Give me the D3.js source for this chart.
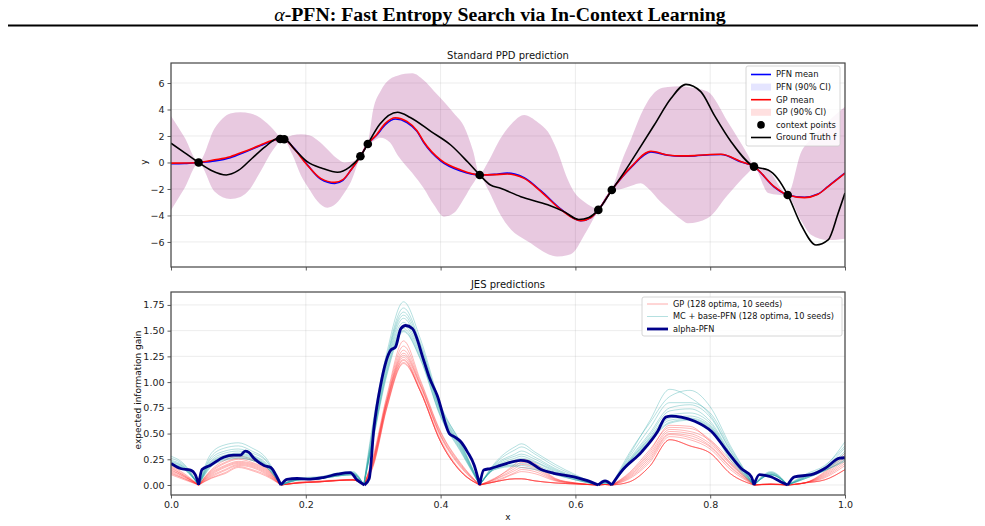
<!DOCTYPE html>
<html>
<head>
<meta charset="utf-8">
<script src="https://cdn.jsdelivr.net/npm/d3@7"></script>
<style>
  body { margin: 0; background: #fff; }
  text { font-family: "DejaVu Sans", sans-serif; }
</style>
</head>
<body>
<div id="wrapper"></div>
<script>
// ---- top panel: standard PPD prediction ----
const meanX = [0, 0.02, 0.041, 0.065, 0.088, 0.11, 0.133, 0.15, 0.162, 0.168, 0.182, 0.202, 0.222, 0.243, 0.255, 0.267, 0.281, 0.292, 0.305, 0.318, 0.333, 0.35, 0.365, 0.375, 0.4, 0.43, 0.458, 0.48, 0.499, 0.51, 0.524, 0.549, 0.579, 0.608, 0.623, 0.634, 0.654, 0.683, 0.712, 0.737, 0.757, 0.777, 0.8, 0.816, 0.846, 0.865, 0.895, 0.915, 0.94, 0.96, 0.975, 1.0];
const gpMean = [-0.05, -0.04, 0, 0.2, 0.44, 0.85, 1.32, 1.65, 1.77, 1.75, 1.07, -0.19, -1.2, -1.5, -1.3, -0.57, 0.47, 1.4, 2.1, 2.95, 3.38, 3.1, 2.4, 1.57, 0.19, -0.57, -0.94, -0.92, -0.87, -0.95, -1.2, -2.2, -3.58, -4.39, -4.15, -3.58, -2.08, -0.31, 0.85, 0.57, 0.5, 0.52, 0.6, 0.62, 0.06, -0.31, -1.82, -2.45, -2.65, -2.4, -1.82, -0.82];
const pfnMean = [-0.1, -0.08, 0, 0.12, 0.36, 0.8, 1.28, 1.63, 1.77, 1.75, 1.1, -0.15, -1.25, -1.58, -1.35, -0.57, 0.47, 1.4, 2.05, 2.85, 3.28, 3.02, 2.35, 1.5, 0.12, -0.65, -0.94, -0.9, -0.8, -0.88, -1.15, -2.15, -3.55, -4.4, -4.15, -3.58, -2.08, -0.35, 0.8, 0.55, 0.48, 0.5, 0.58, 0.6, 0.04, -0.31, -1.85, -2.45, -2.62, -2.38, -1.8, -0.8];

const ciX = [0, 0.02, 0.041, 0.065, 0.088, 0.103, 0.118, 0.128, 0.138, 0.148, 0.155, 0.162, 0.168, 0.18, 0.193, 0.205, 0.217, 0.232, 0.245, 0.257, 0.267, 0.281, 0.286, 0.292, 0.3, 0.311, 0.325, 0.336, 0.358, 0.375, 0.39, 0.405, 0.42, 0.435, 0.448, 0.458, 0.47, 0.489, 0.505, 0.524, 0.534, 0.545, 0.559, 0.573, 0.588, 0.598, 0.613, 0.623, 0.634, 0.644, 0.654, 0.668, 0.683, 0.697, 0.707, 0.727, 0.737, 0.757, 0.767, 0.796, 0.826, 0.856, 0.865, 0.886, 0.915, 0.935, 0.95, 0.975, 1.0];
const ciUpper = [3.5, 1.9, 0.05, 2.6, 3.7, 3.8, 3.7, 3.5, 3.15, 2.7, 2.3, 1.9, 1.85, 2.05, 2.13, 2.05, 1.7, 1.0, 0.35, 0.0, 0.05, 0.55, 1.1, 1.5, 4.0, 5.4, 6.3, 6.55, 6.73, 6.2, 5.4, 4.59, 3.7, 2.7, 0.9, -0.85, 0.0, 1.82, 2.9, 3.58, 3.4, 3.0, 2.33, 0.9, -1.2, -2.2, -2.96, -3.3, -3.5, -2.6, -2.0, 0.0, 1.82, 3.6, 4.59, 5.6, 5.7, 5.75, 5.7, 5.35, 3.08, 0.57, -0.25, -0.6, -2.35, 0.8, 1.8, 3.1, 4.2];
const ciLower = [-3.6, -1.95, -0.05, -2.2, -2.75, -2.6, -1.95, -1.1, -0.2, 0.7, 1.2, 1.65, 1.65, 0.6, -1.0, -2.0, -2.9, -3.41, -3.1, -2.3, -1.45, 0.4, 0.8, 1.3, 1.6, 1.87, 1.5, 0.57, -0.8, -1.95, -3.2, -4.09, -3.8, -2.7, -1.6, -1.0, -2.0, -3.96, -5.1, -5.8, -6.1, -6.5, -6.9, -7.1, -7.0, -6.73, -5.5, -4.6, -3.65, -3.1, -2.15, -2.0, -1.75, -1.57, -1.9, -3.0, -3.46, -4.3, -4.59, -4.21, -2.45, -0.8, -0.38, -2.3, -2.55, -4.4, -5.47, -5.85, -5.75];

const truthX = [0, 0.02, 0.041, 0.06, 0.082, 0.1, 0.12, 0.14, 0.16, 0.168, 0.185, 0.202, 0.225, 0.247, 0.265, 0.281, 0.292, 0.31, 0.336, 0.355, 0.386, 0.415, 0.44, 0.458, 0.474, 0.489, 0.519, 0.559, 0.583, 0.605, 0.62, 0.634, 0.654, 0.673, 0.692, 0.717, 0.742, 0.764, 0.786, 0.806, 0.831, 0.865, 0.886, 0.9, 0.915, 0.935, 0.957, 0.975, 0.99, 1.0];
const truthY = [1.45, 0.75, 0.0, -0.6, -0.94, -0.6, 0.3, 1.2, 1.85, 1.8, 0.9, 0.06, -0.45, -0.74, -0.35, 0.47, 1.4, 2.9, 3.79, 3.4, 2.33, 1.32, 0.05, -0.94, -1.7, -1.95, -2.58, -3.2, -3.71, -4.3, -4.15, -3.58, -2.08, -0.69, 0.82, 2.83, 4.85, 5.9, 5.35, 3.58, 1.57, -0.31, -0.57, -1.2, -2.45, -4.72, -6.23, -5.85, -3.8, -2.3];

const contextX = [0.041, 0.162, 0.168, 0.281, 0.292, 0.458, 0.634, 0.654, 0.865, 0.915];
const contextY = [0.0, 1.77, 1.75, 0.47, 1.4, -0.94, -3.58, -2.08, -0.31, -2.45];

const topTicksY = [-6, -4, -2, 0, 2, 4, 6];

// ---- bottom panel: JES predictions ----
const jesX = [0, 0.02, 0.041, 0.06, 0.08, 0.10, 0.12, 0.14, 0.163, 0.19, 0.22, 0.25, 0.27, 0.286, 0.30, 0.32, 0.345, 0.37, 0.40, 0.43, 0.458, 0.48, 0.51, 0.52, 0.54, 0.57, 0.60, 0.634, 0.644, 0.654, 0.68, 0.71, 0.74, 0.77, 0.80, 0.83, 0.865, 0.89, 0.915, 0.94, 0.97, 1.0];

const gpSeeds = [
  [0.19,0.11,0,0.15,0.24,0.28,0.25,0.18,0,0.03,0.04,0.05,0.055,0,0.28,0.86,1.40,1.02,0.52,0.21,0,0.065,0.18,0.22,0.19,0.06,0.02,0,0.005,0,0.12,0.34,0.56,0.55,0.44,0.24,0,0.01,0,0.02,0.13,0.31],
  [0.18,0.10,0,0.14,0.22,0.26,0.24,0.17,0,0.026,0.036,0.048,0.052,0,0.26,0.84,1.35,1.00,0.51,0.20,0,0.06,0.20,0.25,0.21,0.065,0.02,0,0.005,0,0.11,0.32,0.58,0.57,0.42,0.22,0,0.01,0,0.02,0.12,0.29],
  [0.17,0.09,0,0.13,0.21,0.25,0.22,0.16,0,0.022,0.032,0.046,0.05,0,0.25,0.82,1.31,0.98,0.49,0.19,0,0.055,0.16,0.20,0.17,0.055,0.018,0,0.005,0,0.10,0.30,0.54,0.52,0.43,0.21,0,0.01,0,0.02,0.11,0.27],
  [0.16,0.09,0,0.12,0.19,0.23,0.21,0.15,0,0.022,0.032,0.046,0.05,0,0.24,0.81,1.28,0.97,0.48,0.18,0,0.05,0.14,0.17,0.15,0.05,0.016,0,0.005,0,0.09,0.28,0.52,0.50,0.40,0.20,0,0.008,0,0.02,0.10,0.25],
  [0.15,0.08,0,0.11,0.18,0.22,0.20,0.14,0,0.022,0.032,0.046,0.05,0,0.23,0.80,1.26,0.96,0.47,0.17,0,0.04,0.12,0.15,0.13,0.045,0.015,0,0.005,0,0.08,0.26,0.50,0.48,0.38,0.18,0,0.008,0,0.02,0.09,0.23],
  [0.14,0.08,0,0.10,0.17,0.21,0.19,0.13,0,0.02,0.03,0.044,0.048,0,0.22,0.79,1.24,0.93,0.44,0.14,0,0.03,0.11,0.13,0.11,0.04,0.014,0,0.005,0,0.07,0.24,0.49,0.46,0.37,0.17,0,0.007,0,0.02,0.08,0.21],
  [0.13,0.07,0,0.09,0.15,0.20,0.18,0.12,0,0.02,0.03,0.044,0.048,0,0.21,0.78,1.22,0.91,0.42,0.13,0,0.03,0.06,0.06,0.04,0.02,0.01,0,0.005,0,0.06,0.22,0.47,0.44,0.35,0.15,0,0.006,0,0.02,0.07,0.19],
  [0.12,0.06,0,0.08,0.14,0.19,0.17,0.11,0,0.02,0.03,0.044,0.048,0,0.20,0.76,1.21,0.91,0.42,0.13,0,0.03,0.06,0.06,0.04,0.02,0.01,0,0.005,0,0.03,0.18,0.44,0.38,0.31,0.11,0,0.005,0,0.02,0.05,0.15],
  [0.11,0.06,0,0.07,0.12,0.18,0.15,0.10,0,0.02,0.03,0.044,0.048,0,0.19,0.75,1.19,0.91,0.42,0.13,0,0.03,0.06,0.06,0.04,0.02,0.01,0,0.005,0,0.03,0.18,0.44,0.38,0.31,0.11,0,0.005,0,0.02,0.05,0.15],
  [0.10,0.05,0,0.065,0.11,0.17,0.14,0.09,0,0.02,0.03,0.044,0.048,0,0.18,0.74,1.18,0.91,0.42,0.13,0,0.03,0.06,0.06,0.04,0.02,0.01,0,0.005,0,0.03,0.18,0.44,0.38,0.31,0.11,0,0.005,0,0.02,0.05,0.15]
];

const mcSeeds = [
  [0.28,0.20,0,0.28,0.36,0.38,0.33,0.25,0,0.06,0.07,0.11,0.12,0,0.62,1.28,1.78,1.42,0.78,0.40,0,0.20,0.34,0.37,0.30,0.18,0.09,0,0.03,0,0.31,0.60,0.86,0.92,0.76,0.38,0,0.12,0,0.09,0.18,0.42],
  [0.26,0.19,0,0.31,0.39,0.41,0.36,0.27,0,0.07,0.08,0.12,0.13,0,0.58,1.24,1.72,1.38,0.76,0.41,0,0.21,0.37,0.40,0.32,0.20,0.10,0,0.04,0,0.29,0.62,0.93,0.85,0.68,0.34,0,0.13,0,0.10,0.19,0.38],
  [0.24,0.18,0,0.26,0.33,0.35,0.31,0.24,0,0.06,0.07,0.11,0.12,0,0.55,1.22,1.68,1.36,0.75,0.39,0,0.19,0.30,0.33,0.27,0.16,0.08,0,0.03,0,0.27,0.55,0.80,0.80,0.70,0.36,0,0.12,0,0.08,0.17,0.36],
  [0.23,0.17,0,0.24,0.31,0.33,0.29,0.22,0,0.06,0.07,0.10,0.11,0,0.52,1.20,1.65,1.33,0.73,0.38,0,0.18,0.28,0.30,0.25,0.15,0.07,0,0.03,0,0.25,0.50,0.75,0.78,0.66,0.33,0,0.11,0,0.08,0.16,0.33],
  [0.22,0.17,0,0.23,0.29,0.31,0.28,0.21,0,0.05,0.07,0.10,0.11,0,0.50,1.17,1.62,1.31,0.72,0.37,0,0.17,0.26,0.28,0.23,0.14,0.07,0,0.03,0,0.24,0.48,0.72,0.74,0.62,0.31,0,0.11,0,0.07,0.16,0.31],
  [0.21,0.16,0,0.22,0.28,0.30,0.27,0.20,0,0.05,0.06,0.10,0.11,0,0.48,1.15,1.58,1.29,0.71,0.36,0,0.17,0.24,0.26,0.22,0.13,0.06,0,0.02,0,0.23,0.46,0.68,0.70,0.60,0.30,0,0.10,0,0.07,0.15,0.29],
  [0.20,0.16,0,0.21,0.27,0.29,0.26,0.20,0,0.05,0.06,0.09,0.10,0,0.47,1.12,1.55,1.27,0.70,0.35,0,0.16,0.22,0.24,0.20,0.12,0.06,0,0.02,0,0.23,0.45,0.65,0.67,0.58,0.29,0,0.10,0,0.07,0.15,0.27],
  [0.20,0.15,0,0.20,0.26,0.28,0.25,0.19,0,0.05,0.06,0.09,0.10,0,0.46,1.10,1.52,1.25,0.68,0.34,0,0.16,0.20,0.21,0.18,0.11,0.05,0,0.02,0,0.22,0.44,0.63,0.65,0.57,0.27,0,0.10,0,0.06,0.14,0.25],
  [0.19,0.15,0,0.19,0.25,0.27,0.24,0.18,0,0.05,0.06,0.09,0.10,0,0.45,1.08,1.50,1.23,0.67,0.33,0,0.15,0.19,0.19,0.16,0.10,0.05,0,0.02,0,0.21,0.43,0.61,0.64,0.56,0.26,0,0.10,0,0.06,0.14,0.24],
  [0.19,0.15,0,0.18,0.24,0.26,0.24,0.18,0,0.05,0.06,0.09,0.10,0,0.44,1.06,1.49,1.22,0.66,0.32,0,0.15,0.18,0.17,0.15,0.10,0.05,0,0.02,0,0.21,0.42,0.60,0.63,0.55,0.24,0,0.10,0,0.06,0.14,0.23]
];

const alphaX = [0, 0.014, 0.029, 0.036, 0.041, 0.046, 0.058, 0.078, 0.093, 0.103, 0.110, 0.115, 0.123, 0.138, 0.148, 0.157, 0.163, 0.172, 0.187, 0.207, 0.227, 0.247, 0.266, 0.276, 0.287, 0.294, 0.301, 0.311, 0.326, 0.333, 0.341, 0.348, 0.358, 0.375, 0.383, 0.395, 0.413, 0.42, 0.43, 0.44, 0.45, 0.458, 0.464, 0.474, 0.489, 0.519, 0.529, 0.549, 0.568, 0.598, 0.618, 0.634, 0.644, 0.654, 0.668, 0.698, 0.722, 0.734, 0.742, 0.757, 0.777, 0.802, 0.826, 0.846, 0.861, 0.865, 0.873, 0.89, 0.905, 0.915, 0.925, 0.95, 0.97, 0.992, 1.0];
const alphaY = [0.21, 0.16, 0.145, 0.10, 0, 0.15, 0.19, 0.27, 0.29, 0.29, 0.33, 0.32, 0.26, 0.19, 0.17, 0.08, 0, 0.055, 0.063, 0.058, 0.075, 0.105, 0.12, 0.05, 0, 0.06, 0.55, 0.97, 1.31, 1.34, 1.52, 1.55, 1.52, 1.21, 1.05, 0.87, 0.5, 0.47, 0.42, 0.32, 0.19, 0, 0.145, 0.16, 0.19, 0.24, 0.23, 0.15, 0.114, 0.08, 0.042, 0, 0.04, 0, 0.13, 0.32, 0.52, 0.66, 0.67, 0.66, 0.62, 0.52, 0.32, 0.16, 0.08, 0, 0.10, 0.08, 0.03, 0, 0.08, 0.10, 0.16, 0.26, 0.265];

const bottomTicksY = [0, 0.25, 0.5, 0.75, 1.0, 1.25, 1.5, 1.75];
const ticksX = [0, 0.2, 0.4, 0.6, 0.8, 1.0];

// ---- layout ----
const dimensions = { width: 985, height: 526, left: 171, right: 845 };
const topPanel = { top: 63, bottom: 267 };
const bottomPanel = { top: 292, bottom: 495 };

const svg = d3.select("#wrapper")
  .append("svg")
  .attr("width", dimensions.width)
  .attr("height", dimensions.height);

// page header
svg.append("text")
  .attr("x", 500).attr("y", 21)
  .attr("text-anchor", "middle")
  .style("font-family", "'Liberation Serif', 'DejaVu Serif', serif")
  .style("font-size", "19.8px")
  .style("font-weight", "bold")
  .call(t => {
    t.append("tspan").style("font-style", "italic").style("font-weight", "normal").text("α");
    t.append("tspan").text("-PFN: Fast Entropy Search via In-Context Learning");
  });
svg.append("line")
  .attr("x1", 8).attr("x2", 978)
  .attr("y1", 25.5).attr("y2", 25.5)
  .attr("stroke", "#000").attr("stroke-width", 2);

const xScale = d3.scaleLinear().domain([0, 1]).range([dimensions.left, dimensions.right]);
const yTop = d3.scaleLinear().domain([-7.89, 7.51]).range([topPanel.bottom, topPanel.top]);
const yBottom = d3.scaleLinear().domain([-0.0972, 1.8756]).range([bottomPanel.bottom, bottomPanel.top]);

function drawGrid(panel, yScale, yTicks) {
  const g = svg.append("g");
  g.append("g").selectAll("line").data(ticksX).join("line")
    .attr("x1", d => xScale(d)).attr("x2", d => xScale(d))
    .attr("y1", panel.top).attr("y2", panel.bottom)
    .attr("stroke", "#b0b0b0").attr("stroke-opacity", 0.3).attr("stroke-width", 0.8);
  g.append("g").selectAll("line").data(yTicks).join("line")
    .attr("x1", dimensions.left).attr("x2", dimensions.right)
    .attr("y1", d => yScale(d)).attr("y2", d => yScale(d))
    .attr("stroke", "#b0b0b0").attr("stroke-opacity", 0.3).attr("stroke-width", 0.8);
}

function drawAxes(panel, yScale, yTicks, yFormat, showXLabels) {
  const yAxis = d3.axisLeft(yScale).tickValues(yTicks).tickFormat(yFormat).tickSizeOuter(0).tickSize(3.5).tickPadding(3);
  const xAxis = d3.axisBottom(xScale).tickValues(ticksX).tickFormat(showXLabels ? d3.format(".1f") : () => "").tickSizeOuter(0).tickSize(3.5).tickPadding(3);
  const ya = svg.append("g").attr("transform", `translate(${dimensions.left},0)`).call(yAxis);
  const xa = svg.append("g").attr("transform", `translate(0,${panel.bottom})`).call(xAxis);
  [ya, xa].forEach(a => {
    a.select(".domain").remove();
    a.selectAll("line").attr("stroke", "#333").attr("stroke-width", 0.8);
    a.selectAll("text").attr("fill", "#222").style("font-size", "9.5px").style("font-family", "'DejaVu Sans', sans-serif");
  });
  ya.selectAll("text").text(d => yFormat(d).replace("-", "\u2212"));
  svg.append("rect")
    .attr("x", dimensions.left).attr("y", panel.top)
    .attr("width", dimensions.right - dimensions.left).attr("height", panel.bottom - panel.top)
    .attr("fill", "none").attr("stroke", "#444").attr("stroke-width", 1.2);
}

// clip paths
const defs = svg.append("defs");
[["clipTop", topPanel], ["clipBottom", bottomPanel]].forEach(([id, p]) => {
  defs.append("clipPath").attr("id", id).append("rect")
    .attr("x", dimensions.left).attr("y", p.top)
    .attr("width", dimensions.right - dimensions.left).attr("height", p.bottom - p.top);
});

// ---------- top panel ----------
drawGrid(topPanel, yTop, topTicksY);
const topG = svg.append("g").attr("clip-path", "url(#clipTop)");

const band = d3.area()
  .x((d, i) => xScale(ciX[i]))
  .y0((d, i) => yTop(ciLower[i]))
  .y1((d, i) => yTop(ciUpper[i]))
  .curve(d3.curveMonotoneX);

topG.append("path").datum(ciX).attr("d", band)
  .attr("fill", "blue").attr("fill-opacity", 0.1);
topG.append("path").datum(ciX).attr("d", band)
  .attr("fill", "red").attr("fill-opacity", 0.12);

const meanLine = (ys, scale) => d3.line()
  .x(d => xScale(d))
  .y((d, i) => scale(ys[i]))
  .curve(d3.curveMonotoneX);

topG.append("path").datum(meanX).attr("d", meanLine(pfnMean, yTop))
  .attr("fill", "none").attr("stroke", "blue").attr("stroke-width", 1.6);
topG.append("path").datum(meanX).attr("d", meanLine(gpMean, yTop))
  .attr("fill", "none").attr("stroke", "red").attr("stroke-width", 1.6);
topG.append("path").datum(truthX).attr("d", meanLine(truthY, yTop))
  .attr("fill", "none").attr("stroke", "black").attr("stroke-width", 1.6);
topG.append("g").selectAll("circle").data(contextX).join("circle")
  .attr("cx", d => xScale(d))
  .attr("cy", (d, i) => yTop(contextY[i]))
  .attr("r", 4.3).attr("fill", "black");

drawAxes(topPanel, yTop, topTicksY, d3.format("d"), false);

svg.append("text").attr("x", 508).attr("y", 59).attr("text-anchor", "middle")
  .style("font-size", "10px").attr("fill", "#111").text("Standard PPD prediction");
svg.append("text").attr("transform", "translate(147,162) rotate(-90)").attr("text-anchor", "middle")
  .style("font-size", "9px").attr("fill", "#111").text("y");

// top legend
const topLegend = svg.append("g").attr("transform", "translate(746,66)");
topLegend.append("rect").attr("width", 94).attr("height", 80).attr("rx", 2)
  .attr("fill", "white").attr("fill-opacity", 0.85).attr("stroke", "#ccc").attr("stroke-width", 0.8);
const topItems = [
  { label: "PFN mean", kind: "line", color: "blue" },
  { label: "PFN (90% CI)", kind: "patch", color: "blue", op: 0.1 },
  { label: "GP mean", kind: "line", color: "red" },
  { label: "GP (90% CI)", kind: "patch", color: "red", op: 0.12 },
  { label: "context points", kind: "dot", color: "black" },
  { label: "Ground Truth f", kind: "line", color: "black" }
];
topItems.forEach((it, i) => {
  const y = 8.5 + i * 12.6;
  const g = topLegend.append("g").attr("transform", `translate(0,${y})`);
  if (it.kind === "line") {
    g.append("line").attr("x1", 5).attr("x2", 25).attr("stroke", it.color).attr("stroke-width", 1.6);
  } else if (it.kind === "patch") {
    g.append("rect").attr("x", 5).attr("y", -3.5).attr("width", 20).attr("height", 7)
      .attr("fill", it.color).attr("fill-opacity", it.op);
  } else {
    g.append("circle").attr("cx", 15).attr("r", 3.8).attr("fill", it.color);
  }
  g.append("text").attr("x", 30).attr("dy", "0.35em").style("font-size", "8.4px").attr("fill", "#111").text(it.label);
});

// ---------- bottom panel ----------
drawGrid(bottomPanel, yBottom, bottomTicksY);
const botG = svg.append("g").attr("clip-path", "url(#clipBottom)");

// split at the zero cusps so every segment ends in a sharp V
function cuspPath(xs, ys) {
  const line = d3.line().x(d => xScale(d[0])).y(d => yBottom(d[1])).curve(d3.curveMonotoneX);
  let parts = [], seg = [];
  xs.forEach((x, i) => {
    seg.push([x, ys[i]]);
    if (ys[i] === 0 && seg.length > 1) {
      parts.push(line(seg));
      seg = [[x, 0]];
    }
  });
  if (seg.length > 1) parts.push(line(seg));
  return parts.join("");
}

botG.append("g").selectAll("path").data(gpSeeds).join("path")
  .attr("d", d => cuspPath(jesX, d))
  .attr("fill", "none").attr("stroke", "#ff2020").attr("stroke-opacity", 0.32).attr("stroke-width", 1);
botG.append("g").selectAll("path").data(mcSeeds).join("path")
  .attr("d", d => cuspPath(jesX, d))
  .attr("fill", "none").attr("stroke", "#2aa6a6").attr("stroke-opacity", 0.35).attr("stroke-width", 1);
botG.append("path").attr("d", cuspPath(alphaX, alphaY))
  .attr("fill", "none").attr("stroke", "#00008b").attr("stroke-width", 2.8).attr("stroke-linejoin", "round");

drawAxes(bottomPanel, yBottom, bottomTicksY, d3.format(".2f"), true);

svg.append("text").attr("x", 508).attr("y", 288).attr("text-anchor", "middle")
  .style("font-size", "10px").attr("fill", "#111").text("JES predictions");
svg.append("text").attr("transform", "translate(141,390) rotate(-90)").attr("text-anchor", "middle")
  .style("font-size", "9px").attr("fill", "#111").text("expected information gain");
svg.append("text").attr("x", 508).attr("y", 520).attr("text-anchor", "middle")
  .style("font-size", "9px").attr("fill", "#111").text("x");

// bottom legend
const botLegend = svg.append("g").attr("transform", "translate(642,297)");
botLegend.append("rect").attr("width", 200).attr("height", 39).attr("rx", 2)
  .attr("fill", "white").attr("fill-opacity", 0.85).attr("stroke", "#ccc").attr("stroke-width", 0.8);
const botItems = [
  { label: "GP (128 optima, 10 seeds)", color: "#ff2020", op: 0.3, w: 1.2 },
  { label: "MC + base-PFN (128 optima, 10 seeds)", color: "#2aa6a6", op: 0.35, w: 1 },
  { label: "alpha-PFN", color: "#00008b", op: 1, w: 2.8 }
];
botItems.forEach((it, i) => {
  const g = botLegend.append("g").attr("transform", `translate(0,${7 + i * 12.5})`);
  g.append("line").attr("x1", 5).attr("x2", 26).attr("stroke", it.color)
    .attr("stroke-opacity", it.op).attr("stroke-width", it.w);
  g.append("text").attr("x", 31).attr("dy", "0.35em").style("font-size", "8.2px").attr("fill", "#111").text(it.label);
});
</script>
</body>
</html>
